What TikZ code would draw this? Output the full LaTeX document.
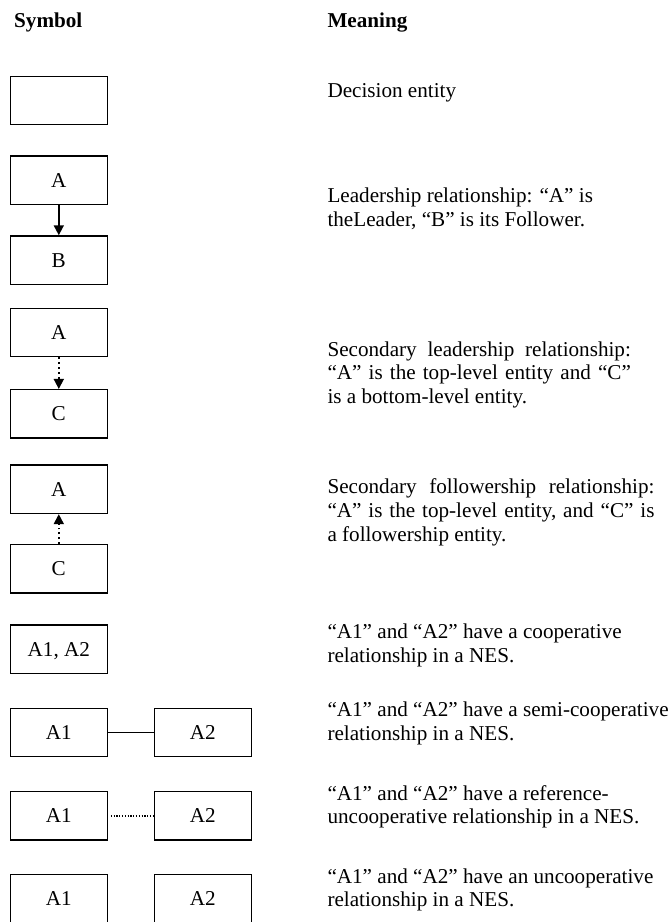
\documentclass[tikz,border=0pt]{standalone}
\usepackage{fontspec}
\setmainfont{Liberation Serif}
\usetikzlibrary{arrows.meta}
\begin{document}
\begin{tikzpicture}[x=1pt,y=-1pt,
  ent/.style={draw, line width=1.5pt, minimum width=97pt, minimum height=48.4pt,
    inner sep=0pt, text depth=0pt, font=\fontsize{21.15}{23.4}\selectfont},
  txt/.style={anchor=base west, inner sep=0pt, font=\fontsize{21.15}{23.4}\selectfont},
  hdr/.style={anchor=base west, inner sep=0pt, font=\fontsize{21.15}{23.4}\selectfont\bfseries},
  solidarrow/.style={line width=1.7pt, -{Triangle[width=10pt,length=10pt]}},
  dotarrow/.style={line width=1.7pt, dash pattern=on 1.7pt off 3.2pt, -{Triangle[width=10pt,length=10pt]}},
  plainlink/.style={line width=1.2pt},
  dotlink/.style={line width=1.2pt, dash pattern=on 1.2pt off 1.6pt}
]
\useasboundingbox (0,0) rectangle (671,922);
% headers
\node[hdr] (hsym) at (14,27.3) {Symbol};
\node[hdr] (hmean) at (327.3,27.3) {Meaning};
% row 1
\node[ent] (d1) at (58.8,100.5) {};
\node[txt] (t1) at (327.3,97.3) {Decision entity};
% row 2
\node[ent] (a2) at (58.8,180.2) {A};
\node[ent] (b2) at (58.8,260.2) {B};
\draw[solidarrow] (a2.south) -- (b2.north);
\node[txt] (t2a) at (327.3,202.7) {Leadership relationship: “A” is};
\node[txt] (t2b) at (327.3,226.1) {theLeader, “B” is its Follower.};
% row 3
\node[ent] (a3) at (58.8,332.5) {A};
\node[ent] (c3) at (58.8,413.9) {C};
\draw[dotarrow] (a3.south) -- (c3.north);
\node[txt] (t3a) at (327.3,356) {\hbox to 303.4pt{Secondary\hfill leadership\hfill relationship:}};
\node[txt] (t3b) at (327.3,379.5) {\hbox to 303.4pt{“A”\hfill is\hfill the\hfill top-level\hfill entity\hfill and\hfill “C”}};
\node[txt] (t3c) at (327.3,403.2) {is a bottom-level entity.};
% row 4
\node[ent] (a4) at (58.8,489.2) {A};
\node[ent] (c4) at (58.8,568.9) {C};
\draw[dotarrow] (c4.north) -- (a4.south);
\node[txt] (t4a) at (327.3,493.5) {\hbox to 327pt{Secondary\hfill followership\hfill relationship:}};
\node[txt] (t4b) at (327.3,517.3) {\hbox to 327pt{“A”\hfill is\hfill the\hfill top-level\hfill entity,\hfill and\hfill “C”\hfill is}};
\node[txt] (t4c) at (327.3,541.2) {a followership entity.};
% row 5
\node[ent] (a5) at (58.8,649.2) {A1, A2};
\node[txt] (t5a) at (327.3,638.5) {“A1” and “A2” have a cooperative};
\node[txt] (t5b) at (327.3,662.3) {relationship in a NES.};
% row 6
\node[ent] (a6) at (58.8,732.5) {A1};
\node[ent] (b6) at (202.8,732.5) {A2};
\draw[plainlink] (a6.east) -- (b6.west);
\node[txt] (t6a) at (327.3,716.7) {“A1” and “A2” have a semi-cooperative};
\node[txt] (t6b) at (327.3,740.1) {relationship in a NES.};
% row 7
\node[ent] (a7) at (58.8,815.9) {A1};
\node[ent] (b7) at (202.8,815.9) {A2};
\draw[dotlink] ([xshift=2.7pt]a7.east) -- (b7.west);
\node[txt] (t7a) at (327.3,800) {“A1” and “A2” have a reference-};
\node[txt] (t7b) at (327.3,823.4) {uncooperative relationship in a NES.};
% row 8
\node[ent] (a8) at (58.8,898.5) {A1};
\node[ent] (b8) at (202.8,898.5) {A2};
\node[txt] (t8a) at (327.3,883.3) {“A1” and “A2” have an uncooperative};
\node[txt] (t8b) at (327.3,906.7) {relationship in a NES.};
\end{tikzpicture}
\end{document}
